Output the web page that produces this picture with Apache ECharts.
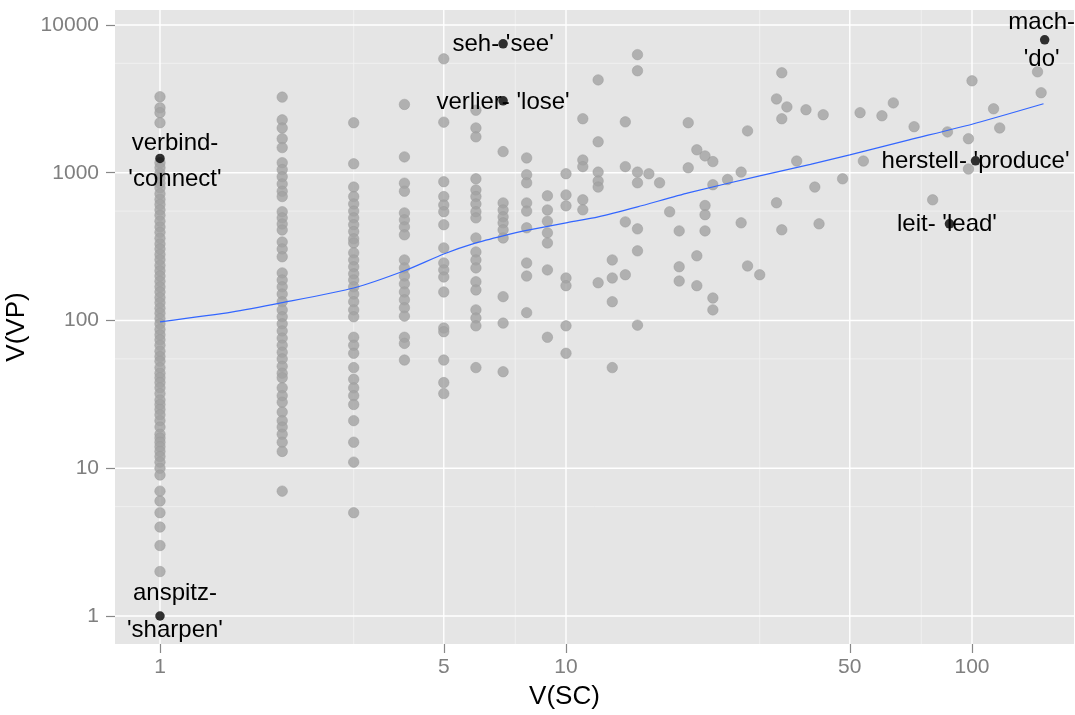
<!DOCTYPE html>
<html><head><meta charset="utf-8">
<script src="https://cdn.jsdelivr.net/npm/echarts@6/dist/echarts.min.js"></script>
<style>html,body{margin:0;padding:0;background:#fff}#c{width:1075px;height:715px}</style>
</head><body><div id="c"></div>
<script>
// ---- tick labels / gridlines ----
const xTicks = [1, 5, 10, 50, 100];
const yTicks = [1, 10, 100, 1000, 10000];
const xMinor = [3, 7.5, 30, 75];
const yMinor = [5.5, 55, 550, 5500];

// ---- grey points: V(VP) values for each V(SC) column ----
const vsc1 = [3270, 2750, 2550, 2180, 1170, 1080, 990, 920, 850, 790, 720, 660, 610, 560, 515, 470, 430, 395, 360, 330, 305, 280, 258, 236, 217, 200, 184, 169, 156, 143, 132, 121, 112, 103, 95, 87, 80, 74, 68, 62, 57, 53, 48, 44, 41, 38, 35, 32, 29, 27, 25, 23, 21, 19, 17, 16, 15, 14, 13, 12, 11, 10, 9, 7, 6, 5, 4, 3, 2];
const vsc2 = [3250, 2280, 2010, 1700, 1480, 1170, 1050, 940, 840, 750, 690, 545, 495, 450, 410, 340, 305, 270, 210, 188, 169, 151, 134, 118, 106, 95, 85, 76, 68, 61, 55, 49, 44, 41, 35, 31, 28, 24, 21, 19, 17, 15, 13, 7];
const vsc3 = [2180, 1150, 800, 690, 615, 550, 495, 445, 400, 357, 335, 287, 257, 231, 207, 188, 169, 151, 134, 118, 106, 77, 68, 60, 48, 40, 35, 31, 27, 21, 15, 11, 5];
const vsc4 = [2900, 1280, 850, 750, 535, 480, 430, 380, 257, 227, 200, 177, 156, 138, 122, 107, 77, 70, 54];
const vsc5 = [5900, 2200, 870, 690, 605, 545, 445, 310, 245, 220, 197, 156, 89, 84, 54, 38, 32];
const vsc6 = [2650, 2010, 1750, 910, 765, 690, 615, 545, 495, 362, 291, 257, 227, 183, 161, 118, 104, 92, 48];
const vsc7 = [1390, 625, 560, 503, 458, 411, 362, 145, 96, 45];
const vsc8 = [1260, 970, 855, 625, 550, 424, 245, 200, 113];
const vsc9 = [698, 560, 470, 392, 335, 220, 77];
const vsc10 = [985, 708, 597, 194, 172, 92, 60];
const vsc11 = [2320, 1220, 1100, 656, 561];
const vsc12 = [4250, 1620, 1010, 880, 800, 180];
const vsc13 = [257, 194, 134, 48];
const vsc14 = [2210, 1100, 465, 204];
const vsc15 = [6300, 4900, 1010, 855, 417, 296, 93];
const sparseX = [16, 17, 18, 19, 19, 19, 20, 20, 21, 21, 21, 22, 22, 22, 22, 23, 23, 23, 23, 25, 27, 27, 28, 28, 30, 33, 33, 34, 34, 34, 35, 37, 39, 41, 42, 43, 48, 53, 54, 60, 64, 72, 80, 87, 98, 98, 100, 113, 117, 145, 148];
const sparseY = [984, 855, 544, 404, 231, 185, 2180, 1080, 1430, 274, 172, 1300, 600, 520, 404, 1190, 830, 142, 118, 900, 1010, 458, 1920, 234, 204, 3160, 626, 4750, 2320, 411, 2790, 1200, 2670, 800, 451, 2470, 910, 2550, 1200, 2430, 2970, 2050, 656, 1890, 1700, 1060, 4190, 2710, 2010, 4820, 3480];

// ---- highlighted verbs ----
const hlX = [1, 1, 7, 7, 151, 102, 88];
const hlY = [1250, 1, 7460, 3070, 7940, 1204, 451];
const hlLabel = ["verbind-\n'connect'", "anspitz-\n'sharpen'", "seh- 'see'", "verlier- 'lose'", "mach-\n'do'", "herstell- 'produce'", "leit- 'lead'"];

// ---- smoother ----
const smX = [1, 1.5, 2, 3, 4, 5, 6, 7, 8, 10, 12, 15, 20, 30, 40, 50, 70, 100, 150];
const smY = [98, 114, 132, 166, 217, 282, 335, 374, 407, 458, 503, 588, 731, 953, 1140, 1322, 1670, 2130, 2930];

// ---- build ----
const L = Math.log10;
const FONT = "'Liberation Sans', Arial, sans-serif";
const xMin = -0.1108, xMax = 2.2512, yMin = -0.1895, yMax = 4.1015;
const labelOffsets = [[15, 3], [15, -4], [0, 1], [0, 1.5], [-3, 1], [0, 0.5], [-2.5, 1]];

const cols = [[1, vsc1], [2, vsc2], [3, vsc3], [4, vsc4], [5, vsc5], [6, vsc6], [7, vsc7], [8, vsc8], [9, vsc9], [10, vsc10], [11, vsc11], [12, vsc12], [13, vsc13], [14, vsc14], [15, vsc15]];
const greyPts = [];
cols.forEach(([x, ys]) => ys.forEach(y => greyPts.push([L(x), L(y)])));
sparseX.forEach((x, i) => greyPts.push([L(x), L(sparseY[i])]));

function vline(v, major) {
  return {type: 'line', data: [[L(v), yMin], [L(v), yMax]], symbol: 'none', silent: true, z: major ? 1.5 : 1,
    lineStyle: {color: major ? '#FFFFFF' : '#F2F2F2', width: major ? 1.4 : 0.8}};
}
function hline(v, major) {
  return {type: 'line', data: [[xMin, L(v)], [xMax, L(v)]], symbol: 'none', silent: true, z: major ? 1.5 : 1,
    lineStyle: {color: major ? '#FFFFFF' : '#F2F2F2', width: major ? 1.4 : 0.8}};
}

const series = [];
xMinor.forEach(v => series.push(vline(v, false)));
yMinor.forEach(v => series.push(hline(v, false)));
xTicks.forEach(v => series.push(vline(v, true)));
yTicks.forEach(v => series.push(hline(v, true)));

series.push({type: 'scatter', z: 2, symbolSize: 10.5, data: greyPts, silent: true,
  itemStyle: {color: '#A3A3A3', borderColor: '#9A9A9A', borderWidth: 0.6}});
series.push({type: 'line', z: 3, symbol: 'none', silent: true, smooth: 0.2,
  data: smX.map((x, i) => [L(x), L(smY[i])]),
  lineStyle: {color: '#3366FF', width: 1.2}});
series.push({type: 'scatter', z: 4, symbolSize: 1, silent: true,
  itemStyle: {color: 'rgba(0,0,0,0)'},
  data: hlX.map((x, i) => ({value: [L(x), L(hlY[i])],
    label: {show: true, position: 'inside', formatter: hlLabel[i], offset: labelOffsets[i],
      color: '#000', fontSize: 24, fontFamily: FONT, lineHeight: 36.5, align: 'center', verticalAlign: 'middle', opacity: 1}}))});
series.push({type: 'scatter', z: 5, symbolSize: 9.5, silent: true,
  data: hlX.map((x, i) => [L(x), L(hlY[i])]), itemStyle: {color: '#000'}});

const axisCommon = {
  type: 'value', axisLine: {show: true, onZero: false, lineStyle: {color: 'rgba(0,0,0,0)'}}, splitLine: {show: false},
  nameLocation: 'middle'
};

const option = {
  animation: false,
  backgroundColor: '#FFFFFF',
  grid: {left: 115, right: 1, top: 10, bottom: 71, show: true, backgroundColor: '#E5E5E5', borderWidth: 0,
    containLabel: false, outerBoundsMode: 'none'},
  xAxis: Object.assign({}, axisCommon, {
    min: xMin, max: xMax, position: 'bottom',
    axisTick: {show: true, inside: false, customValues: xTicks.map(L), length: 9, lineStyle: {color: '#888888', width: 1.2}},
    axisLabel: {customValues: xTicks.map(L), formatter: v => String(Math.round(Math.pow(10, v))), color: '#7F7F7F', fontSize: 21, fontFamily: FONT, margin: 13},
    name: 'V(SC)', nameGap: 40, nameTextStyle: {color: '#000', fontSize: 26, fontFamily: FONT, padding: [0, 60, 0, 0]}
  }),
  yAxis: Object.assign({}, axisCommon, {
    min: yMin, max: yMax, position: 'left',
    axisTick: {show: true, inside: false, customValues: yTicks.map(L), length: 9, lineStyle: {color: '#888888', width: 1.2}},
    axisLabel: {customValues: yTicks.map(L), formatter: v => String(Math.round(Math.pow(10, v))), color: '#7F7F7F', fontSize: 21, fontFamily: FONT, margin: 16},
    name: 'V(VP)', nameGap: 76, nameTextStyle: {color: '#000', fontSize: 26, fontFamily: FONT}
  }),
  series: series
};

const chart = echarts.init(document.getElementById('c'), null, {renderer: 'canvas'});
chart.setOption(option);
</script>
</body></html>
